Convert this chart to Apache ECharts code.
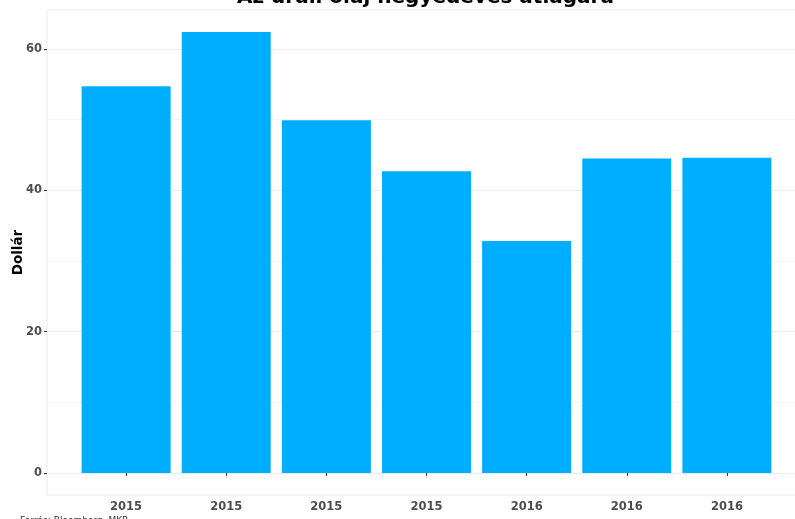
<!DOCTYPE html>
<html>
<head>
<meta charset="utf-8">
<script src="https://cdn.jsdelivr.net/npm/echarts@6/dist/echarts.min.js"></script>
<style>
  html, body { margin: 0; padding: 0; background: #fff; }
  #chart { width: 795px; height: 519px; }
</style>
</head>
<body>
<div id="chart"></div>
<script>
const categories = ['2015', '2015', '2015', '2015', '2016', '2016', '2016']
const prices = [54.7, 62.4, 49.9, 42.7, 32.8, 44.5, 44.6]
const yTicks = [0, 20, 40, 60]
const yMinorTicks = [10, 30, 50]
const xTicks = categories.map((c, i) => i + 1)

const font = 'DejaVu Sans'
const chart = echarts.init(document.getElementById('chart'))

const option = {
  backgroundColor: '#fff',
  animation: false,
  title: [
    {
      text: 'Az urali olaj negyedéves átlagára',
      left: 237,
      top: -12,
      padding: 0,
      textStyle: { fontFamily: font, fontSize: 20, fontWeight: 'bold', color: '#000' }
    },
    {
      text: 'Forrás: Bloomberg, MKB',
      left: 20,
      top: 516,
      padding: 0,
      textStyle: { fontFamily: font, fontSize: 9, fontWeight: 'normal', color: '#333' }
    }
  ],
  grid: {
    left: 47,
    right: -10,
    top: 10,
    bottom: 24,
    outerBoundsMode: 'none',
    containLabel: false,
    show: true,
    borderColor: '#ebebeb',
    borderWidth: 1
  },
  xAxis: {
    type: 'value',
    min: 0.21,
    max: 7.78,
    axisLine: { show: false },
    axisTick: { show: true, customValues: xTicks, length: 3, lineStyle: { color: '#333' } },
    axisLabel: {
      customValues: xTicks,
      formatter: (v) => categories[Math.round(v) - 1] || '',
      fontFamily: font,
      fontSize: 11.5,
      fontWeight: 'bold',
      color: '#4d4d4d',
      margin: 6
    },
    splitLine: { show: false }
  },
  yAxis: [
    {
      type: 'value',
      min: -3.12,
      max: 65.5,
      name: 'Dollár',
      nameLocation: 'middle',
      nameGap: 22,
      nameMoveOverlap: false,
      nameRotate: 90,
      nameTextStyle: { fontFamily: font, fontSize: 13.5, fontWeight: 'bold', color: '#000' },
      axisLine: { show: false },
      axisTick: { show: true, customValues: yTicks, length: 3, lineStyle: { color: '#333' } },
      axisLabel: {
        customValues: yTicks,
        fontFamily: font,
        fontSize: 11.5,
        fontWeight: 'bold',
        color: '#4d4d4d',
        margin: 5
      },
      splitLine: { show: true, lineStyle: { color: '#ebebeb', width: 1 } }
    },
    {
      type: 'value',
      min: -3.12,
      max: 65.5,
      position: 'left',
      axisLine: { show: false },
      axisTick: { show: false, customValues: yMinorTicks },
      axisLabel: { show: false, customValues: yMinorTicks },
      splitLine: { show: true, lineStyle: { color: '#f5f5f5', width: 1 } }
    }
  ],
  series: [
    {
      type: 'bar',
      yAxisIndex: 0,
      data: prices.map((v, i) => [i + 1, v]),
      barWidth: 89,
      itemStyle: { color: '#00aeff' }
    }
  ]
}

chart.setOption(option)
</script>
</body>
</html>
